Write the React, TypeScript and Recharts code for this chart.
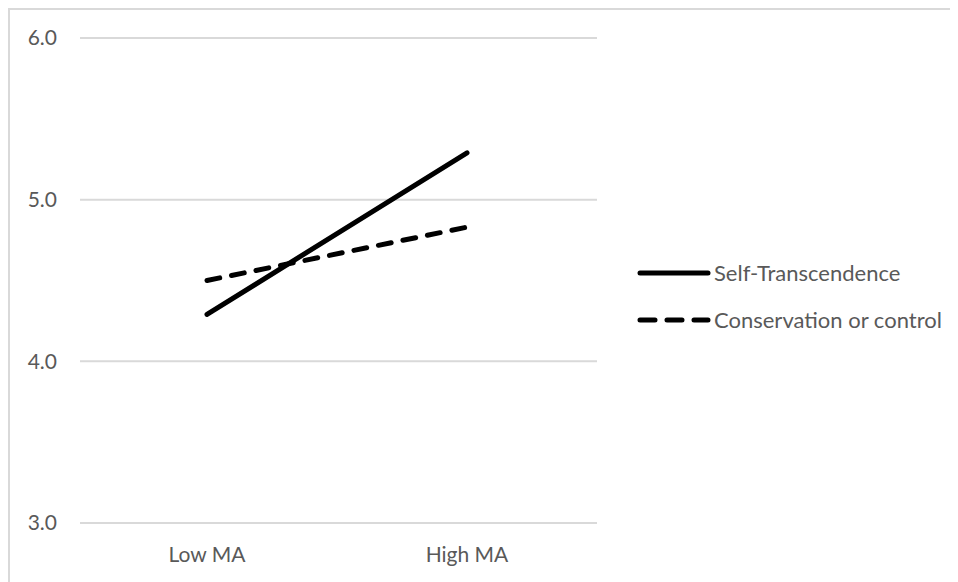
import { LineChart, Line, XAxis, YAxis, CartesianGrid } from 'recharts';

const categories = ['Low MA', 'High MA'];
const selfTranscendence = [4.29, 5.29];
const conservation = [4.5, 4.83];
const yTicks = [3, 4, 5, 6];

const data = categories.map((name, i) => ({
  name,
  self: selfTranscendence[i],
  cons: conservation[i],
}));

const FONT = 'Lato, "Open Sans", sans-serif';
const GREY = '#595959';

const legendItems = [
  { label: 'Self-Transcendence', dash: undefined },
  { label: 'Conservation or control', dash: '15 12' },
];

// legend drawn to the right of the plot
const ChartLegend = () => (
  <svg
    width={330}
    height={80}
    style={{ position: 'absolute', left: 627, top: 248 }}
  >
    {legendItems.map((item, i) => (
      <g key={item.label} transform={`translate(0, ${i * 47 + 15})`}>
        <line
          x1={3}
          x2={71}
          y1={0}
          y2={0}
          stroke="#000"
          strokeWidth={5}
          strokeLinecap="round"
          strokeDasharray={item.dash}
        />
        <text x={77} y={7.5} fill={GREY} fontSize={22} fontFamily={FONT}>
          {item.label}
        </text>
      </g>
    ))}
  </svg>
);

export default function App() {
  return (
    <div
      style={{
        position: 'relative',
        width: 950,
        height: 574,
        borderTop: '2px solid #d9d9d9',
        borderLeft: '2px solid #d9d9d9',
        boxSizing: 'border-box',
      }}
    >
      <LineChart
        width={940}
        height={562}
        data={data}
        margin={{ top: 28, right: 353, bottom: 0, left: 0 }}
      >
        <CartesianGrid vertical={false} stroke="#d9d9d9" strokeWidth={2} />
        <XAxis
          dataKey="name"
          axisLine={false}
          tickLine={false}
          tickSize={0}
          tickMargin={24}
          height={49}
          padding={{ left: 127, right: 130 }}
          tick={{ fill: GREY, fontSize: 21, fontFamily: FONT }}
        />
        <YAxis
          domain={[3, 6]}
          ticks={yTicks}
          width={70}
          axisLine={false}
          tickLine={false}
          tickSize={0}
          tickMargin={23}
          tickFormatter={(v: number) => v.toFixed(1)}
          tick={{ fill: GREY, fontSize: 21, fontFamily: FONT }}
        />
        <Line
          dataKey="self"
          stroke="#000"
          strokeWidth={5}
          strokeLinecap="round"
          dot={false}
          isAnimationActive={false}
        />
        <Line
          dataKey="cons"
          stroke="#000"
          strokeWidth={5}
          strokeLinecap="round"
          strokeDasharray="13 12"
          dot={false}
          isAnimationActive={false}
        />
      </LineChart>
      <ChartLegend />
    </div>
  );
}
